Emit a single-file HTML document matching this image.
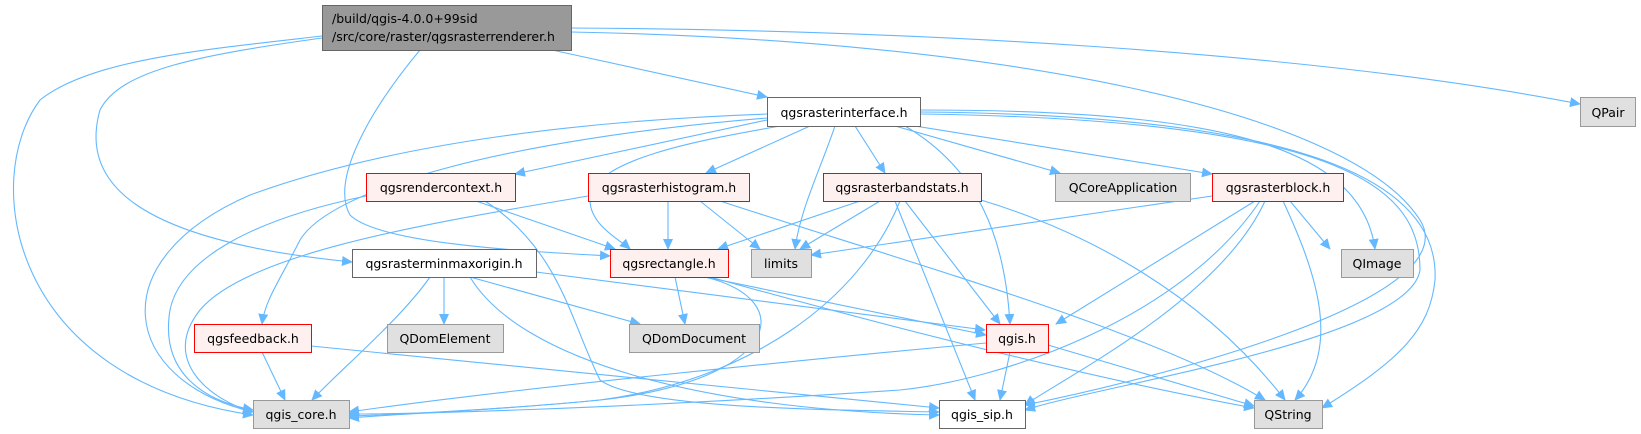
<!DOCTYPE html>
<html><head><meta charset="utf-8"><style>
html,body{margin:0;padding:0;background:#fff;}
svg{display:block;}
text{font-family:"DejaVu Sans","Liberation Sans",sans-serif;font-size:12.5px;fill:#000;}
</style></head><body>
<svg width="1641" height="434" viewBox="0 0 1641 434" xmlns="http://www.w3.org/2000/svg">
<defs>
<marker id="a" markerWidth="11" markerHeight="10" refX="10" refY="5" orient="auto" markerUnits="userSpaceOnUse">
<path d="M0,0 L11,5 L0,10 z" fill="#63b8ff"/>
</marker>
</defs>
<g fill="none" stroke="#63b8ff" stroke-width="1.1" marker-end="url(#a)">
<path d="M552,50 L767,97"/>
<path d="M571,28 C900,30 1300,50 1580,104"/>
<path d="M571,32 C1000,40 1350,110 1420,220 C1470,300 1150,380 1025,405"/>
<path d="M322,36 C200,50 90,60 40,100 C-20,180 10,380 253,415"/>
<path d="M322,38 C200,55 120,70 100,110 C80,180 130,240 352,262"/>
<path d="M420,50 C370,110 330,180 350,215 C380,245 540,252 610,256"/>
<path d="M767,120 L515,174"/>
<path d="M810,126 L706,173"/>
<path d="M855,126 L885,173"/>
<path d="M895,126 L1060,173"/>
<path d="M915,126 L1212,174"/>
<path d="M780,126 C700,140 590,160 590,200 C590,225 620,240 630,249"/>
<path d="M835,126 C820,170 800,210 795,249"/>
<path d="M905,126 C980,170 1005,240 1010,324"/>
<path d="M920,110 C1200,110 1360,140 1375,249"/>
<path d="M920,112 C1300,115 1440,180 1435,280 C1430,330 1400,360 1322,408"/>
<path d="M920,114 C1350,120 1420,190 1420,270 C1410,340 1100,385 1025,410"/>
<path d="M767,114 C600,120 400,140 250,195 C100,260 120,380 253,412"/>
<path d="M767,118 C500,140 330,190 300,240 C280,280 265,300 262,324"/>
<path d="M366,196 C250,220 180,260 170,310 C160,370 200,400 253,410"/>
<path d="M476,201 L615,249"/>
<path d="M485,201 C560,250 570,320 600,380 C640,410 850,410 939,412"/>
<path d="M668,201 L668,249"/>
<path d="M700,201 L760,249"/>
<path d="M720,201 C900,260 1150,330 1265,400"/>
<path d="M588,196 C450,220 250,250 200,310 C160,360 210,400 253,412"/>
<path d="M860,201 L718,249"/>
<path d="M880,201 L800,249"/>
<path d="M905,201 L1000,324"/>
<path d="M895,201 L975,400"/>
<path d="M981,200 C1080,230 1200,290 1285,400"/>
<path d="M900,201 C860,300 750,380 600,400 C500,410 380,415 349,416"/>
<path d="M1212,196 L811,255"/>
<path d="M1290,201 L1330,249"/>
<path d="M1255,201 L1056,324"/>
<path d="M1265,201 C1220,300 1060,380 1025,405"/>
<path d="M1283,201 C1320,280 1340,350 1295,400"/>
<path d="M1260,201 C1180,320 1000,380 900,390 C600,410 400,414 349,414"/>
<path d="M430,277 C400,320 340,370 312,400"/>
<path d="M444,277 L444,324"/>
<path d="M470,277 L640,324"/>
<path d="M536,272 L985,330"/>
<path d="M470,277 C520,360 700,410 939,415"/>
<path d="M675,277 L685,324"/>
<path d="M705,277 L986,335"/>
<path d="M705,277 C800,300 780,380 600,400 C500,410 380,415 349,418"/>
<path d="M710,277 C900,330 1100,380 1254,408"/>
<path d="M262,352 L285,400"/>
<path d="M311,346 L939,408"/>
<path d="M986,343 C800,360 500,390 349,412"/>
<path d="M1010,352 L1000,400"/>
<path d="M1048,345 L1254,406"/>
</g>
<g stroke-width="1">
<rect x="322.5" y="5.5" width="249" height="45" fill="#999999" stroke="#666"/>
<text x="332" y="23">/build/qgis-4.0.0+99sid</text>
<text x="332" y="41">/src/core/raster/qgsrasterrenderer.h</text>
<rect x="767.5" y="97.5" width="153" height="29" fill="#fff" stroke="#666"/>
<text x="844" y="117" text-anchor="middle">qgsrasterinterface.h</text>
<rect x="1580.5" y="97.5" width="55" height="29" fill="#e0e0e0" stroke="#999"/>
<text x="1608" y="117" text-anchor="middle">QPair</text>
<g fill="#fff0f0" stroke="#ff0000">
<rect x="366.5" y="173.5" width="149" height="28"/>
<rect x="588.5" y="173.5" width="161" height="28"/>
<rect x="823.5" y="173.5" width="158" height="28"/>
<rect x="1212.5" y="173.5" width="131" height="28"/>
<rect x="610.5" y="249.5" width="118" height="28"/>
<rect x="194.5" y="324.5" width="117" height="28"/>
<rect x="986.5" y="324.5" width="62" height="28"/>
</g>
<g fill="#e0e0e0" stroke="#999">
<rect x="1055.5" y="173.5" width="135" height="28"/>
<rect x="751.5" y="249.5" width="60" height="28"/>
<rect x="1341.5" y="249.5" width="72" height="28"/>
<rect x="387.5" y="324.5" width="116" height="28"/>
<rect x="629.5" y="324.5" width="130" height="28"/>
<rect x="253.5" y="400.5" width="96" height="28"/>
<rect x="1254.5" y="400.5" width="68" height="28"/>
</g>
<rect x="352.5" y="249.5" width="184" height="28" fill="#fff" stroke="#666"/>
<rect x="939.5" y="400.5" width="86" height="28" fill="#fff" stroke="#666"/>
</g>
<g text-anchor="middle">
<text x="441" y="192">qgsrendercontext.h</text>
<text x="669" y="192">qgsrasterhistogram.h</text>
<text x="902" y="192">qgsrasterbandstats.h</text>
<text x="1123" y="192">QCoreApplication</text>
<text x="1278" y="192">qgsrasterblock.h</text>
<text x="444" y="268">qgsrasterminmaxorigin.h</text>
<text x="669" y="268">qgsrectangle.h</text>
<text x="781" y="268">limits</text>
<text x="1377" y="268">QImage</text>
<text x="253" y="343">qgsfeedback.h</text>
<text x="445" y="343">QDomElement</text>
<text x="694" y="343">QDomDocument</text>
<text x="1017" y="343">qgis.h</text>
<text x="301" y="419">qgis_core.h</text>
<text x="982" y="419">qgis_sip.h</text>
<text x="1288" y="419">QString</text>
</g>
</svg>
</body></html>
